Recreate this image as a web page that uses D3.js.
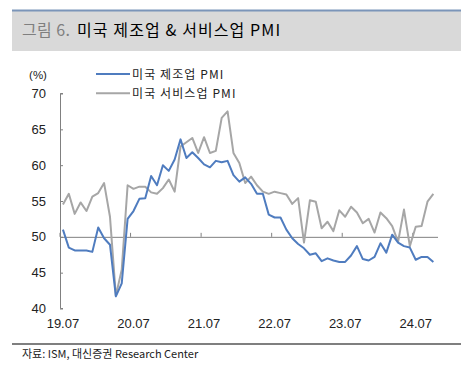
<!DOCTYPE html>
<html><head><meta charset="utf-8">
<script src="https://cdn.jsdelivr.net/npm/d3@7"></script>
<style>body{margin:0;background:#fff}svg{display:block}</style>
</head><body><svg id="c" width="470" height="368"></svg>
<script>
const months = [
"19.07","19.08","19.09","19.10","19.11","19.12",
"20.01","20.02","20.03","20.04","20.05","20.06","20.07","20.08","20.09","20.10","20.11","20.12",
"21.01","21.02","21.03","21.04","21.05","21.06","21.07","21.08","21.09","21.10","21.11","21.12",
"22.01","22.02","22.03","22.04","22.05","22.06","22.07","22.08","22.09","22.10","22.11","22.12",
"23.01","23.02","23.03","23.04","23.05","23.06","23.07","23.08","23.09","23.10","23.11","23.12",
"24.01","24.02","24.03","24.04","24.05","24.06","24.07","24.08","24.09","24.10"];
const manufacturing = [
51.0,48.5,48.1,48.1,48.1,47.9,
51.3,49.8,48.9,41.7,43.5,52.5,53.6,55.3,55.4,58.5,57.2,60.0,
59.2,60.8,63.6,61.0,61.8,61.0,60.1,59.7,60.6,60.4,60.6,58.6,
57.7,58.3,57.4,56.0,56.0,53.1,52.7,52.7,51.0,49.8,49.0,48.4,
47.5,47.7,46.6,47.0,46.7,46.5,46.5,47.4,48.7,46.9,46.7,47.2,
49.1,47.8,50.3,49.2,48.7,48.5,46.8,47.2,47.2,46.5];
const services = [
54.5,56.0,53.2,54.8,53.6,55.6,
56.1,57.5,52.8,41.8,45.4,57.2,56.7,57.0,57.0,56.2,56.0,56.8,
58.0,56.3,62.6,63.2,63.8,61.7,63.9,61.7,62.0,66.6,67.5,61.7,
60.3,57.5,58.4,57.2,56.3,56.0,56.3,56.1,55.9,54.6,55.4,49.2,
55.1,54.9,51.2,52.1,50.8,53.7,52.8,54.2,53.4,51.9,52.5,50.6,
53.4,52.6,51.5,49.3,53.8,48.7,51.4,51.5,54.9,56.0];
const yTicks = [40,45,50,55,60,65,70];
const xTickLabels = ["19.07","20.07","21.07","22.07","23.07","24.07"];
const seriesNames = ["미국 제조업 PMI","미국 서비스업 PMI"];
const seriesColors = ["#4f7cbf","#a6a6a6"];

const svg = d3.select("#c");
const num = "'Liberation Sans', Arial, sans-serif";
const kr = "'Noto Sans CJK KR', 'Noto Sans', sans-serif";

// title bar
svg.append("rect").attr("x",12).attr("y",10).attr("width",449).attr("height",41).attr("fill","#d9d9d9");
svg.append("line").attr("x1",12).attr("x2",461).attr("y1",10.5).attr("y2",10.5).attr("stroke","#7b95b9").attr("stroke-width",2);
svg.append("text").attr("x",22).attr("y",36).attr("font-family",kr).attr("font-size",16)
  .attr("fill","#7f7f7f").attr("letter-spacing",0.4).text("그림 6.");
svg.append("text").attr("x",77).attr("y",36).attr("font-family",kr).attr("font-size",16)
  .attr("fill","#000").attr("letter-spacing",1.1).text("미국 제조업 & 서비스업 PMI");

// footer
svg.append("line").attr("x1",12).attr("x2",461).attr("y1",344).attr("y2",344).attr("stroke","#7f7f7f").attr("stroke-width",2);
svg.append("text").attr("x",22).attr("y",358).attr("font-family",kr).attr("font-size",11).attr("fill","#222")
  .text("자료: ISM, 대신증권 Research Center");

// scales
const x = d3.scaleBand().domain(months).range([60,436.3]).padding(0);
const y = d3.scaleLinear().domain([40,70]).range([308.5,93.5]);
const cx = d => x(d) + x.bandwidth()/2;

// y axis
const ya = svg.append("g").attr("transform","translate(60,0)")
  .call(d3.axisRight(y).tickValues(yTicks).tickSize(3).tickFormat(""));
ya.select(".domain").attr("stroke","#808080").attr("d","M3,93.5H0.5V308.5H3");
ya.selectAll(".tick line").attr("stroke","#808080");
svg.selectAll(".ylab").data(yTicks).enter().append("text")
  .attr("x",46).attr("y",d=>y(d)+4.5).attr("text-anchor","end")
  .attr("font-family",num).attr("font-size",13).attr("fill","#222").text(d=>d);
svg.append("text").attr("x",38).attr("y",79).attr("text-anchor","middle")
  .attr("font-family",num).attr("font-size",11.5).attr("fill","#222").text("(%)");

// x axis at 50
const xa = svg.append("g").attr("transform",`translate(0,${y(50)})`)
  .call(d3.axisTop(x).tickValues(xTickLabels).tickSize(4).tickFormat(""));
xa.select(".domain").attr("stroke","#808080").attr("d",`M60,0.5H438`);
xa.selectAll(".tick").attr("transform",d=>`translate(${x(d)},0)`);
xa.selectAll(".tick line").attr("stroke","#808080");
svg.selectAll(".xlab").data(xTickLabels).enter().append("text")
  .attr("x",d=>cx(d)).attr("y",328).attr("text-anchor","middle")
  .attr("font-family",num).attr("font-size",13).attr("fill","#222").text(d=>d);

// lines
const line = d3.line().x((d,i)=>cx(months[i])).y(d=>y(d));
[services, manufacturing].forEach((s,k)=>{
  svg.append("path").datum(s).attr("fill","none")
    .attr("stroke", k===0?seriesColors[1]:seriesColors[0]).attr("stroke-width",2)
    .attr("stroke-linejoin","round").attr("d",line);
});

// legend
seriesNames.forEach((n,i)=>{
  const ly = 74 + i*19.3;
  svg.append("line").attr("x1",96).attr("x2",130).attr("y1",ly).attr("y2",ly)
    .attr("stroke",seriesColors[i]).attr("stroke-width",2);
  svg.append("text").attr("x",132).attr("y",ly+4.5).attr("font-family",kr).attr("font-size",12)
    .attr("letter-spacing",1.1).attr("fill","#222").text(n);
});
</script></body></html>
